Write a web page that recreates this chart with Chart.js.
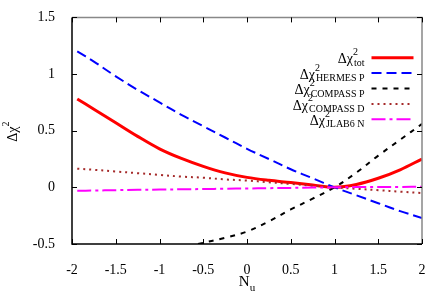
<!DOCTYPE html>
<html>
<head>
<meta charset="utf-8">
<script src="https://cdn.jsdelivr.net/npm/chart.js@4/dist/chart.umd.min.js"></script>
<style>
html,body{margin:0;padding:0;background:#fff;}
canvas{display:block;}
</style>
</head>
<body>
<canvas id="c" width="436" height="305"></canvas>
<script>
// ---- data ----
const nu = [-1.94,-1.75,-1.5,-1.25,-1,-0.75,-0.5,-0.25,0,0.25,0.5,0.75,1,1.25,1.5,1.75,2];
const chiTot = [0.78,0.69,0.57,0.45,0.34,0.255,0.185,0.128,0.088,0.062,0.042,0.02,0,0.025,0.08,0.155,0.25];
const chiHermesP = [1.2,1.11,0.98,0.86,0.75,0.64,0.54,0.44,0.34,0.25,0.16,0.08,0,-0.07,-0.14,-0.21,-0.27];
const nuCompassP = [-0.56,-0.25,0,0.25,0.5,0.75,1,1.25,1.5,1.75,2];
const chiCompassP = [-0.5,-0.445,-0.39,-0.3,-0.195,-0.1,0,0.13,0.28,0.42,0.56];
const chiCompassD = [0.165,0.155,0.14,0.125,0.11,0.095,0.085,0.07,0.06,0.045,0.03,0.015,0,-0.013,-0.025,-0.038,-0.05];
const chiJlab6N = [-0.03,-0.028,-0.025,-0.022,-0.02,-0.017,-0.015,-0.012,-0.01,-0.007,-0.005,-0.002,0,0.002,0.003,0.004,0.005];

const xTickLabels = ['-2','-1.5','-1','-0.5','0','0.5','1','1.5','2'];
const yTickLabels = ['-0.5','0','0.5','1','1.5'];
const legendSubs = ['tot','HERMES P','COMPASS P','COMPASS D','JLAB6 N'];
const xTitleMain = 'N', xTitleSub = 'u';
const yTitleMain = 'Δχ', yTitleSup = '2';

const SERIF = '"Liberation Serif", "DejaVu Serif", serif';
const pts = (xs, ys) => xs.map((x, i) => ({x: x, y: ys[i]}));

const styles = [
  {color:'#ff0000', width:3, dash:[]},
  {color:'#0000ff', width:2, dash:[10,5]},
  {color:'#000000', width:2, dash:[5,6]},
  {color:'#a52a2a', width:2, dash:[2,4]},
  {color:'#ff00ff', width:2, dash:[14,4,3,4]}
];
const series = [
  pts(nu, chiTot), pts(nu, chiHermesP), pts(nuCompassP, chiCompassP),
  pts(nu, chiCompassD), pts(nu, chiJlab6N)
];

const datasets = series.map((d, i) => ({
  label: legendSubs[i],
  data: d,
  borderColor: styles[i].color,
  borderWidth: styles[i].width,
  borderDash: styles[i].dash,
  pointRadius: 0,
  fill: false,
  tension: 0.35,
  order: 4 - i
}));

function drawMixed(ctx, xRight, yLine, main, sup, sub) {
  ctx.textAlign = 'left';
  ctx.textBaseline = 'alphabetic';
  ctx.font = '14px ' + SERIF;
  const wMain = ctx.measureText(main).width;
  ctx.font = '10px ' + SERIF;
  const wSup = ctx.measureText(sup).width;
  const wSub = ctx.measureText(sub).width;
  const x0 = xRight - wMain - Math.max(wSup, wSub);
  ctx.fillStyle = '#000';
  ctx.font = '14px ' + SERIF;
  ctx.fillText(main, x0, yLine + 5.7);
  ctx.font = '10px ' + SERIF;
  ctx.fillText(sup, x0 + wMain, yLine - 2.5);
  ctx.fillText(sub, x0 + wMain + 1, yLine + 8);
}

const decor = {
  id: 'decor',
  afterDatasetsDraw(chart) {
    const ctx = chart.ctx;
    const a = chart.chartArea;
    const xs = chart.scales.x, ys = chart.scales.y;
    ctx.save();
    // frame
    ctx.setLineDash([]);
    ctx.lineWidth = 1.5;
    ctx.strokeStyle = '#888888';
    ctx.beginPath();
    ctx.moveTo(a.left, a.top); ctx.lineTo(a.right, a.top); ctx.lineTo(a.right, a.bottom);
    ctx.stroke();
    ctx.strokeStyle = '#000';
    ctx.beginPath();
    ctx.moveTo(a.left, a.top); ctx.lineTo(a.left, a.bottom); ctx.lineTo(a.right, a.bottom);
    ctx.stroke();
    // inward ticks
    ctx.lineWidth = 1;
    ctx.strokeStyle = '#000';
    ctx.beginPath();
    xs.ticks.forEach(t => {
      const px = Math.round(xs.getPixelForValue(t.value)) + 0.5;
      ctx.moveTo(px, a.bottom); ctx.lineTo(px, a.bottom - 5);
      ctx.moveTo(px, a.top); ctx.lineTo(px, a.top + 5);
    });
    ys.ticks.forEach(t => {
      const py = Math.round(ys.getPixelForValue(t.value)) + 0.5;
      ctx.moveTo(a.left, py); ctx.lineTo(a.left + 5, py);
      ctx.moveTo(a.right, py); ctx.lineTo(a.right - 5, py);
    });
    ctx.stroke();

    // legend
    const textRight = 363.5, lx0 = 371.5, lx1 = 413.5;
    legendSubs.forEach((sub, i) => {
      const y = 57.7 + i * 15.4;
      drawMixed(ctx, textRight, y, 'Δχ', '2', sub);
      ctx.strokeStyle = styles[i].color;
      ctx.lineWidth = styles[i].width;
      ctx.setLineDash(styles[i].dash);
      ctx.beginPath();
      ctx.moveTo(lx0, y); ctx.lineTo(lx1, y);
      ctx.stroke();
    });
    ctx.setLineDash([]);

    // x title
    ctx.fillStyle = '#000';
    ctx.textAlign = 'left';
    ctx.textBaseline = 'alphabetic';
    ctx.font = '15px ' + SERIF;
    const wN = ctx.measureText(xTitleMain).width;
    const cx = (a.left + a.right) / 2;
    ctx.font = '11px ' + SERIF;
    const wU = ctx.measureText(xTitleSub).width;
    const xs0 = cx - (wN + wU) / 2;
    ctx.font = '15px ' + SERIF;
    ctx.fillText(xTitleMain, xs0, 285.5);
    ctx.font = '11px ' + SERIF;
    ctx.fillText(xTitleSub, xs0 + wN, 290.5);

    // y title (rotated)
    ctx.save();
    ctx.translate(17, (a.top + a.bottom) / 2);
    ctx.rotate(-Math.PI / 2);
    ctx.font = '14px ' + SERIF;
    const wM = ctx.measureText(yTitleMain).width;
    ctx.font = '10px ' + SERIF;
    const wS = ctx.measureText(yTitleSup).width;
    const s0 = -(wM + wS) / 2 - 1;
    ctx.font = '14px ' + SERIF;
    ctx.fillText(yTitleMain, s0, 0);
    ctx.font = '10px ' + SERIF;
    ctx.fillText(yTitleSup, s0 + wM, -8.5);
    ctx.restore();

    ctx.restore();
  }
};

new Chart(document.getElementById('c'), {
  type: 'line',
  data: { datasets: datasets },
  options: {
    responsive: false,
    animation: false,
    layout: { padding: { top: 14, right: 14, left: 0, bottom: 0 } },
    plugins: { legend: { display: false }, tooltip: { enabled: false }, title: { display: false } },
    scales: {
      x: {
        type: 'linear', min: -2, max: 2,
        ticks: { stepSize: 0.5, color: '#000', padding: 10, maxRotation: 0, autoSkip: false,
                 font: { family: SERIF, size: 14 },
                 callback: (v, i) => xTickLabels[i] },
        grid: { display: false }, border: { display: false },
        afterFit(s) { s.height = 61; }
      },
      y: {
        type: 'linear', min: -0.5, max: 1.5,
        ticks: { stepSize: 0.5, color: '#000', padding: 9, autoSkip: false,
                 font: { family: SERIF, size: 14 },
                 callback: (v, i) => yTickLabels[i] },
        grid: { display: false }, border: { display: false },
        afterFit(s) { s.width = 72; }
      }
    }
  },
  plugins: [decor]
});
</script>
</body>
</html>
